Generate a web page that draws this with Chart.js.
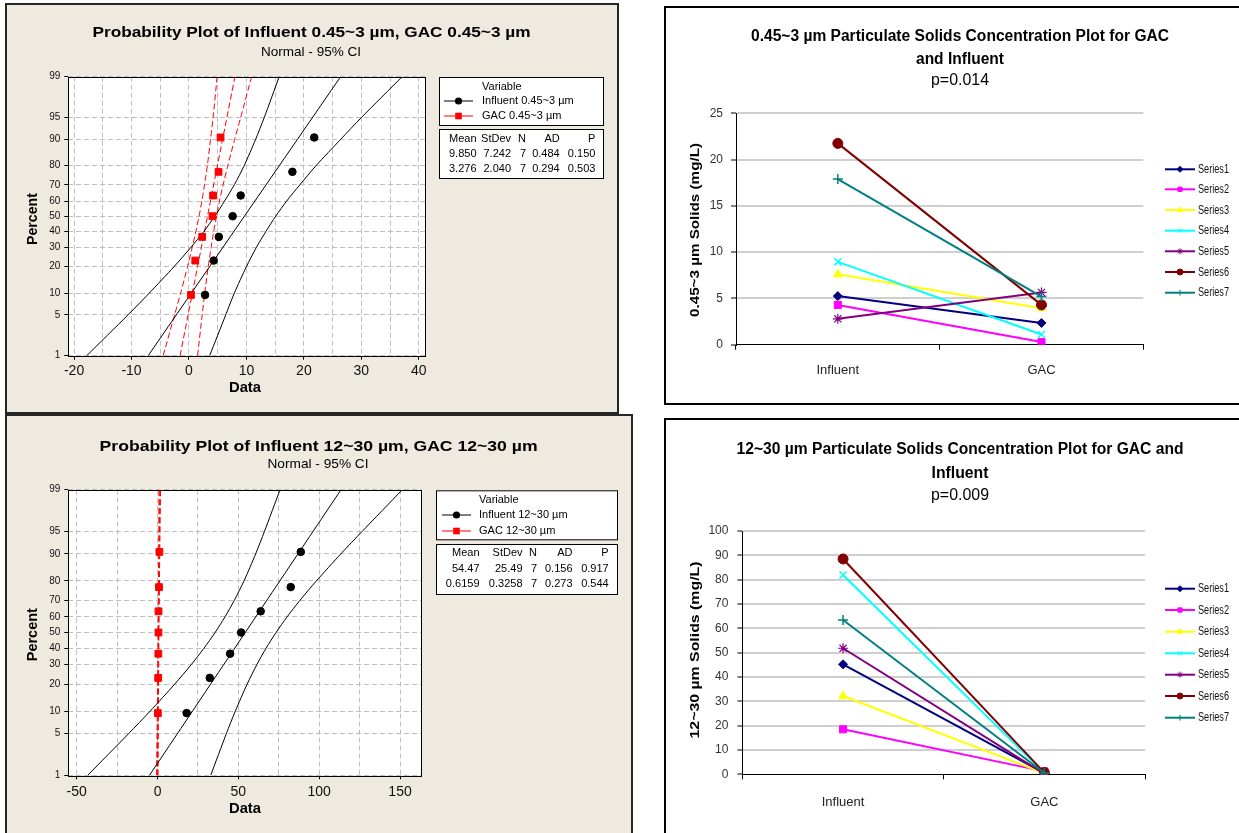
<!DOCTYPE html>
<html><head><meta charset="utf-8">
<script src="https://cdn.jsdelivr.net/npm/chart.js@4.4.1/dist/chart.umd.min.js"></script>
<style>
html,body{margin:0;padding:0;background:#fff;}
#root{position:relative;width:1239px;height:833px;overflow:hidden;background:#fff;}
.panel{position:absolute;box-sizing:border-box;}
canvas{position:absolute;}
</style></head><body>
<div id="root">
<div class="panel" style="left:5px;top:3px;width:614px;height:411px;background:#EEEAE0;border:2px solid #262626;"></div>
<div class="panel" style="left:5px;top:414px;width:628px;height:440px;background:#EEEAE0;border:2px solid #262626;"></div>
<div class="panel" style="left:664px;top:6px;width:600px;height:399px;background:#fff;border:2px solid #000;"></div>
<div class="panel" style="left:664px;top:418px;width:600px;height:440px;background:#fff;border:2px solid #000;"></div>
<canvas id="cTL" width="614" height="411" style="left:5px;top:3px"></canvas>
<canvas id="cBL" width="628" height="419" style="left:5px;top:414px"></canvas>
<canvas id="cTR" width="575" height="399" style="left:664px;top:6px"></canvas>
<canvas id="cBR" width="575" height="415" style="left:664px;top:418px"></canvas>
</div>
<script>
// ================= DATA =================
// probability plots (Minitab)
const probTicks = [1, 5, 10, 20, 30, 40, 50, 60, 70, 80, 90, 95, 99];
const plotPct = [9.46, 22.97, 36.49, 50, 63.51, 77.03, 90.54];
const ciPct = [1, 5, 10, 20, 30, 40, 50, 60, 70, 80, 90, 95, 99];
const ciPctShort = [1, 10, 50, 90, 99];
const fitPct = [1, 99];

const infFine = [2.8, 4.3, 5.2, 7.6, 9.0, 18.0, 21.8];
const gacFine = [0.35, 1.1, 2.3, 4.1, 4.2, 5.15, 5.5];
const infFineFit = [-7.1, 26.4];
const infFineLo = [-17.8, -10.6, -6.9, -2.6, 0.3, 2.6, 4.5, 6.2, 7.9, 9.6, 11.6, 13.1, 15.7];
const infFineHi = [3.6, 6.4, 7.9, 10.0, 11.7, 13.4, 15.1, 17.0, 19.3, 22.1, 26.4, 30.0, 37.1];
const gacFineFit = [-1.55, 8.0];
const gacFineLo = [-4.5, -2.5, -1.45, -0.25, 0.55, 1.2, 1.75, 2.25, 2.7, 3.2, 3.75, 4.2, 4.9];
const gacFineHi = [1.5, 2.3, 2.75, 3.35, 3.85, 4.3, 4.8, 5.3, 5.95, 6.75, 7.95, 9.0, 10.9];
const xTicksFine = [-20, -15, -10, -5, 0, 5, 10, 15, 20, 25, 30, 35, 40];

const infCoarse = [18.0, 32.3, 44.9, 51.7, 63.8, 82.4, 88.6];
const gacCoarse = [0.2, 0.4, 0.5, 0.55, 0.6, 0.9, 1.15];
const infCoarseFit = [-5.0, 113.5];
const infCoarseLo = [-43.2, -17.8, -4.6, 10.6, 20.8, 28.8, 35.6, 41.7, 47.5, 53.5, 60.7, 66.1, 75.8];
const infCoarseHi = [32.9, 42.6, 48.1, 55.4, 61.4, 67.2, 73.3, 80.1, 88.1, 98.3, 113.4, 126.5, 151.4];
const gacCoarseFit = [-0.14, 1.37];
const gacCoarseLo = [-0.63, -0.14, 0.38, 0.70, 0.88];
const gacCoarseHi = [0.35, 0.54, 0.86, 1.37, 1.87];
const xTicksCoarse = [-50, -25, 0, 25, 50, 75, 100, 125, 150];

const statsHeader = ['Mean', 'StDev', 'N', 'AD', 'P'];
const statsFineInf = ['9.850', '7.242', '7', '0.484', '0.150'];
const statsFineGac = ['3.276', '2.040', '7', '0.294', '0.503'];
const statsCoarseInf = ['54.47', '25.49', '7', '0.156', '0.917'];
const statsCoarseGac = ['0.6159', '0.3258', '7', '0.273', '0.544'];

// concentration plots (Excel)
const categories = ['Influent', 'GAC'];
const seriesNames = ['Series1', 'Series2', 'Series3', 'Series4', 'Series5', 'Series6', 'Series7'];
const fineSeries1 = [5.25, 2.35];
const fineSeries2 = [4.3, 0.28];
const fineSeries3 = [7.6, 3.95];
const fineSeries4 = [8.95, 1.1];
const fineSeries5 = [2.8, 5.65];
const fineSeries6 = [21.75, 4.3];
const fineSeries7 = [17.9, 5.2];
const coarseSeries1 = [45.2, 0.5];
const coarseSeries2 = [18.5, 1.2];
const coarseSeries3 = [32.2, 0.4];
const coarseSeries4 = [81.9, 0.6];
const coarseSeries5 = [51.8, 0.2];
const coarseSeries6 = [88.5, 0.7];
const coarseSeries7 = [63.4, 0.55];

// ================= STYLE =================
const F = "'Liberation Sans', Arial, sans-serif";
const NARROW = "'Liberation Sans Narrow', 'Liberation Sans', Arial, sans-serif";
const seriesColors = ['#000080', '#FF00FF', '#FFFF00', '#00FFFF', '#800080', '#800000', '#008080'];
const markerStyles = ['rectRot', 'rect', 'triangle', 'crossRot', 'star', 'circle', 'cross'];
const markerRadius = [4.5, 5, 5, 5, 5, 5, 5];
const markerBorder = [1, 1, 1, 1.5, 1.2, 1, 1.5];

Chart.defaults.font.family = F;
Chart.defaults.color = '#000';

// ---------- normal probability scale ----------
function probit(p) {
  const a = [-3.969683028665376e+01, 2.209460984245205e+02, -2.759285104469687e+02, 1.383577518672690e+02, -3.066479806614716e+01, 2.506628277459239e+00];
  const b = [-5.447609879822406e+01, 1.615858368580409e+02, -1.556989798598866e+02, 6.680131188771972e+01, -1.328068155288572e+01];
  const c = [-7.784894002430293e-03, -3.223964580411365e-01, -2.400758277161838e+00, -2.549732539343734e+00, 4.374664141464968e+00, 2.938163982698783e+00];
  const d = [7.784695709041462e-03, 3.224671290700398e-01, 2.445134137142996e+00, 3.754408661907416e+00];
  const pl = 0.02425, ph = 1 - pl;
  let q, r;
  if (p < pl) { q = Math.sqrt(-2 * Math.log(p)); return (((((c[0]*q+c[1])*q+c[2])*q+c[3])*q+c[4])*q+c[5]) / ((((d[0]*q+d[1])*q+d[2])*q+d[3])*q+1); }
  if (p > ph) { q = Math.sqrt(-2 * Math.log(1 - p)); return -(((((c[0]*q+c[1])*q+c[2])*q+c[3])*q+c[4])*q+c[5]) / ((((d[0]*q+d[1])*q+d[2])*q+d[3])*q+1); }
  q = p - 0.5; r = q * q;
  return (((((a[0]*r+a[1])*r+a[2])*r+a[3])*r+a[4])*r+a[5])*q / (((((b[0]*r+b[1])*r+b[2])*r+b[3])*r+b[4])*r+1);
}
function normCdf(z) {
  const t = 1 / (1 + 0.3275911 * Math.abs(z) / Math.SQRT2);
  const y = 1 - (((((1.061405429*t - 1.453152027)*t) + 1.421413741)*t - 0.284496736)*t + 0.254829592)*t*Math.exp(-z*z/2);
  return 0.5 * (1 + (z >= 0 ? y : -y));
}
class ProbitScale extends Chart.Scale {
  determineDataLimits() { this.min = this.options.min; this.max = this.options.max; }
  buildTicks() { return Array.from(this.options.tickValues).map(v => ({value: v})); }
  configure() { super.configure(); this._z0 = probit(this.min / 100); this._z1 = probit(this.max / 100); }
  getLabelForValue(v) { return String(v); }
  getPixelForValue(v) { return this.getPixelForDecimal((probit(v / 100) - this._z0) / (this._z1 - this._z0)); }
  getValueForPixel(px) { return 100 * normCdf(this._z0 + this.getDecimalForPixel(px) * (this._z1 - this._z0)); }
}
ProbitScale.id = 'probit';
ProbitScale.defaults = {};
Chart.register(ProbitScale);

// ---------- text helper ----------
function drawText(ctx, s, x, y, o) {
  ctx.save();
  ctx.font = o.font || ('11px ' + F);
  ctx.fillStyle = o.color || '#000';
  ctx.textBaseline = 'middle';
  ctx.textAlign = o.align || 'center';
  ctx.translate(x, y);
  if (o.rot) ctx.rotate(o.rot);
  if (o.w) { const m = ctx.measureText(s).width; if (m > 0) ctx.scale(o.w / m, 1); }
  ctx.fillText(s, 0, 0);
  ctx.restore();
}
const pts = (xs, ys) => xs.map((x, i) => ({x: x, y: ys[i]}));

// ================= MINITAB PROBABILITY PLOTS =================
function makeMinitab(P) {
  const blackLine = {showLine: true, borderColor: '#000', backgroundColor: '#000', borderWidth: 1, pointRadius: 0, tension: 0.25, fill: false, order: 2};
  const redLine = {showLine: true, borderColor: '#ff0000', backgroundColor: '#ff0000', borderWidth: 1, borderDash: [6, 3], pointRadius: 0, tension: 0.25, fill: false, order: 3};
  const plugin = {
    id: 'mt' + P.id,
    beforeDraw(chart) {
      const {ctx, chartArea: a} = chart;
      ctx.save(); ctx.fillStyle = '#fff'; ctx.fillRect(a.left, a.top, a.right - a.left, a.bottom - a.top); ctx.restore();
    },
    afterDraw(chart) {
      const {ctx, chartArea: a} = chart;
      ctx.save();
      ctx.strokeStyle = '#000'; ctx.lineWidth = 1;
      ctx.strokeRect(Math.round(a.left) + 0.5, Math.round(a.top) + 0.5, Math.round(a.right - a.left), Math.round(a.bottom - a.top));
      ctx.translate(-P.ox, -P.oy);
      P.texts.forEach(t => drawText(ctx, t.text, t.x, t.y, t));
      const L = P.legend, S = P.stats;
      ctx.fillStyle = '#fff';
      ctx.fillRect(L.x0, L.y0, L.x1 - L.x0, L.y1 - L.y0);
      ctx.fillRect(L.x0, S.y0, L.x1 - L.x0, S.y1 - S.y0);
      ctx.strokeStyle = '#000'; ctx.lineWidth = 1;
      ctx.strokeRect(L.x0 + 0.5, L.y0 + 0.5, L.x1 - L.x0, L.y1 - L.y0);
      ctx.strokeRect(L.x0 + 0.5, S.y0 + 0.5, L.x1 - L.x0, S.y1 - S.y0);
      const lf = '11px ' + F;
      drawText(ctx, 'Variable', L.tx, L.vy, {font: lf, align: 'left'});
      const mx = (L.lx0 + L.lx1) / 2;
      // influent
      ctx.beginPath(); ctx.moveTo(L.lx0, L.iy[0]); ctx.lineTo(L.lx1, L.iy[0]); ctx.strokeStyle = '#000'; ctx.stroke();
      ctx.fillStyle = '#000'; ctx.beginPath(); ctx.arc(mx, L.iy[0], 3.6, 0, Math.PI * 2); ctx.fill();
      drawText(ctx, P.names[0], L.tx, L.iy[0], {font: lf, align: 'left'});
      // gac
      ctx.beginPath(); ctx.moveTo(L.lx0, L.iy[1]); ctx.lineTo(L.lx1, L.iy[1]); ctx.strokeStyle = '#ff0000'; ctx.stroke();
      ctx.fillStyle = '#ff0000'; ctx.fillRect(mx - 3.3, L.iy[1] - 3.3, 6.6, 6.6);
      drawText(ctx, P.names[1], L.tx, L.iy[1], {font: lf, align: 'left'});
      // stats table
      statsHeader.forEach((h, j) => drawText(ctx, h, S.cols[j], S.hy, {font: lf, align: 'right'}));
      P.rows.forEach((r, k) => r.forEach((v, j) => drawText(ctx, v, S.cols[j], S.ry[k], {font: lf, align: 'right'})));
      ctx.restore();
    }
  };
  return new Chart(document.getElementById(P.canvas), {
    type: 'scatter',
    data: {datasets: [
      {label: P.names[0], data: pts(P.inf, plotPct), pointStyle: 'circle', pointRadius: 3.8, backgroundColor: '#000', borderColor: '#000', order: 0},
      {label: P.names[1], data: pts(P.gac, plotPct), pointStyle: 'rect', pointRadius: 4.8, backgroundColor: '#ff0000', borderColor: '#ff0000', order: 1},
      Object.assign({label: 'fit1', data: pts(P.infFit, fitPct)}, blackLine),
      Object.assign({label: 'lo1', data: pts(P.infLo, ciPct)}, blackLine),
      Object.assign({label: 'hi1', data: pts(P.infHi, ciPct)}, blackLine),
      Object.assign({label: 'fit2', data: pts(P.gacFit, fitPct)}, redLine),
      Object.assign({label: 'lo2', data: pts(P.gacLo, P.gacPct)}, redLine),
      Object.assign({label: 'hi2', data: pts(P.gacHi, P.gacPct)}, redLine)
    ]},
    options: {
      responsive: false, maintainAspectRatio: false, animation: false, devicePixelRatio: 1,
      layout: {padding: P.pad},
      plugins: {legend: {display: false}, tooltip: {enabled: false}, title: {display: false}},
      scales: {
        x: {type: 'linear', position: 'bottom', min: P.xMin, max: P.xMax,
          afterBuildTicks: s => { s.ticks = P.xTicks.map(v => ({value: v})); },
          ticks: {autoSkip: false, maxRotation: 0, font: {size: 14}, color: '#111', padding: P.xPad,
            callback: v => (v % P.labelStep === 0 ? String(v) : '')},
          grid: {color: '#BEBEBE', lineWidth: 1, tickLength: 4,
            tickColor: c => (c.tick && c.tick.value % P.labelStep === 0 ? '#000' : 'rgba(0,0,0,0)')},
          border: {display: false, dash: [5, 3]},
          afterFit: s => { s.height = 40; }},
        y: {type: 'probit', position: 'left', min: 1, max: 99, tickValues: probTicks,
          ticks: {autoSkip: false, font: {size: 10}, color: '#111', padding: 4, callback: v => String(v)},
          grid: {color: '#BEBEBE', lineWidth: 1, tickLength: 4, tickColor: '#000'},
          border: {display: false, dash: [5, 3]},
          afterFit: s => { s.width = 40; }}
      }
    },
    plugins: [plugin]
  });
}

makeMinitab({
  id: 'TL', canvas: 'cTL', ox: 5, oy: 3,
  pad: {left: 23.3, right: 193.3, top: 73.7, bottom: 18.3},
  xMin: -21, xMax: 41.2, xTicks: xTicksFine, labelStep: 10, xPad: 3,
  inf: infFine, gac: gacFine, infFit: infFineFit, infLo: infFineLo, infHi: infFineHi,
  gacFit: gacFineFit, gacLo: gacFineLo, gacHi: gacFineHi, gacPct: ciPct,
  names: ['Influent 0.45~3 µm', 'GAC 0.45~3 µm'],
  rows: [statsFineInf, statsFineGac],
  texts: [
    {text: 'Probability Plot of Influent 0.45~3 µm, GAC 0.45~3 µm', x: 311.5, y: 33, font: 'bold 15px ' + F, w: 438},
    {text: 'Normal - 95% CI', x: 311, y: 52.3, font: '13px ' + F, w: 100},
    {text: 'Percent', x: 33, y: 219, font: 'bold 14px ' + F, w: 52, rot: -Math.PI / 2},
    {text: 'Data', x: 245, y: 388, font: 'bold 14px ' + F, w: 32}
  ],
  legend: {x0: 439, x1: 603, y0: 77, y1: 125, tx: 482, vy: 87.3, iy: [101, 116], lx0: 444, lx1: 473},
  stats: {y0: 129, y1: 178, hy: 139.3, ry: [154, 169.3], cols: [476.5, 511, 526, 559.7, 595.4]}
});

makeMinitab({
  id: 'BL', canvas: 'cBL', ox: 5, oy: 414,
  pad: {left: 23.3, right: 211.3, top: 75.7, bottom: 17.7},
  xMin: -55.2, xMax: 163.4, xTicks: xTicksCoarse, labelStep: 50, xPad: 4,
  inf: infCoarse, gac: gacCoarse, infFit: infCoarseFit, infLo: infCoarseLo, infHi: infCoarseHi,
  gacFit: gacCoarseFit, gacLo: gacCoarseLo, gacHi: gacCoarseHi, gacPct: ciPctShort,
  names: ['Influent 12~30 µm', 'GAC 12~30 µm'],
  rows: [statsCoarseInf, statsCoarseGac],
  texts: [
    {text: 'Probability Plot of Influent 12~30 µm, GAC 12~30 µm', x: 318.6, y: 446.7, font: 'bold 15px ' + F, w: 438},
    {text: 'Normal - 95% CI', x: 318, y: 464.3, font: '13px ' + F, w: 101},
    {text: 'Percent', x: 33, y: 634.7, font: 'bold 14px ' + F, w: 53, rot: -Math.PI / 2},
    {text: 'Data', x: 245, y: 809, font: 'bold 14px ' + F, w: 32}
  ],
  legend: {x0: 436, x1: 617, y0: 490.3, y1: 539.3, tx: 479, vy: 500, iy: [515, 531], lx0: 442, lx1: 471},
  stats: {y0: 544, y1: 594, hy: 552.7, ry: [569, 584.3], cols: [479.5, 522.5, 537, 572.5, 608.7]}
});

// ================= EXCEL CONCENTRATION PLOTS =================
function makeExcel(E) {
  const plugin = {
    id: 'xl' + E.id,
    afterDraw(chart) {
      const ctx = chart.ctx;
      ctx.save();
      ctx.translate(-E.ox, -E.oy);
      E.texts.forEach(t => drawText(ctx, t.text, t.x, t.y, t));
      seriesNames.forEach((name, i) => {
        const y = E.legendY[i];
        ctx.save();
        ctx.strokeStyle = seriesColors[i]; ctx.lineWidth = 2;
        ctx.beginPath(); ctx.moveTo(1165, y); ctx.lineTo(1195, y); ctx.stroke();
        ctx.fillStyle = seriesColors[i]; ctx.strokeStyle = seriesColors[i]; ctx.lineWidth = 1;
        Chart.helpers.drawPoint(ctx, {pointStyle: markerStyles[i], radius: 3, borderWidth: 1, rotation: 0}, 1180, y);
        ctx.restore();
        drawText(ctx, name, 1198, y, {font: '13px ' + NARROW, align: 'left', w: 31, color: '#111'});
      });
      ctx.restore();
    }
  };
  return new Chart(document.getElementById(E.canvas), {
    type: 'line',
    data: {labels: categories, datasets: E.series.map((d, i) => ({
      label: seriesNames[i], data: d, borderColor: seriesColors[i], backgroundColor: seriesColors[i],
      borderWidth: 2, tension: 0, fill: false,
      pointStyle: markerStyles[i], pointRadius: markerRadius[i], pointBorderWidth: markerBorder[i],
      pointBackgroundColor: seriesColors[i], pointBorderColor: seriesColors[i], order: 7 - i
    }))},
    options: {
      responsive: false, maintainAspectRatio: false, animation: false, devicePixelRatio: 1,
      layout: {padding: E.pad},
      plugins: {legend: {display: false}, tooltip: {enabled: false}, title: {display: false}},
      scales: {
        x: {type: 'category', offset: true,
          grid: {offset: true, drawOnChartArea: false, drawTicks: true, tickLength: 5, tickColor: '#000', tickWidth: 1},
          border: {color: '#000', width: 1},
          ticks: {font: {family: NARROW, size: 13}, color: '#222', padding: E.xPad, maxRotation: 0},
          afterFit: s => { s.height = 40; }},
        y: {min: 0, max: E.yMax,
          ticks: {stepSize: E.yStep, font: {family: NARROW, size: 12}, color: '#333', padding: E.yPad},
          grid: {color: c => (c.tick && c.tick.value === 0 ? 'rgba(0,0,0,0)' : '#CFCFCF'), lineWidth: 2,
            tickLength: 5, tickColor: '#000', tickWidth: 1},
          border: {color: '#000', width: 1},
          afterFit: s => { s.width = 50; }}
      }
    },
    plugins: [plugin]
  });
}

makeExcel({
  id: 'TR', canvas: 'cTR', ox: 664, oy: 6,
  pad: {left: 22, right: 95.7, top: 107.3, bottom: 20.3},
  yMax: 25, yStep: 5, xPad: 13, yPad: 8,
  series: [fineSeries1, fineSeries2, fineSeries3, fineSeries4, fineSeries5, fineSeries6, fineSeries7],
  legendY: [169.3, 189.3, 210, 230.7, 251.3, 272, 292.7],
  texts: [
    {text: '0.45~3 µm Particulate Solids Concentration Plot for GAC', x: 960, y: 36.7, font: 'bold 16px ' + NARROW, w: 418},
    {text: 'and Influent', x: 960, y: 59.3, font: 'bold 16px ' + NARROW, w: 88},
    {text: 'p=0.014', x: 960, y: 81, font: '16px ' + NARROW, w: 58},
    {text: '0.45~3 µm Solids (mg/L)', x: 695, y: 230, font: 'bold 13px ' + F, w: 174, rot: -Math.PI / 2}
  ]
});

makeExcel({
  id: 'BR', canvas: 'cBR', ox: 664, oy: 418,
  pad: {left: 28.4, right: 94, top: 113, bottom: 18.7},
  yMax: 100, yStep: 10, xPad: 15, yPad: 9,
  series: [coarseSeries1, coarseSeries2, coarseSeries3, coarseSeries4, coarseSeries5, coarseSeries6, coarseSeries7],
  legendY: [588.7, 610, 631.7, 653.3, 674.7, 696, 717.7],
  texts: [
    {text: '12~30 µm Particulate Solids Concentration Plot for GAC and', x: 960, y: 450, font: 'bold 16px ' + NARROW, w: 447},
    {text: 'Influent', x: 960, y: 473.3, font: 'bold 16px ' + NARROW, w: 57},
    {text: 'p=0.009', x: 960, y: 496, font: '16px ' + NARROW, w: 58},
    {text: '12~30 µm Solids (mg/L)', x: 695.4, y: 650, font: 'bold 13px ' + F, w: 177, rot: -Math.PI / 2}
  ]
});
</script>
</body></html>
